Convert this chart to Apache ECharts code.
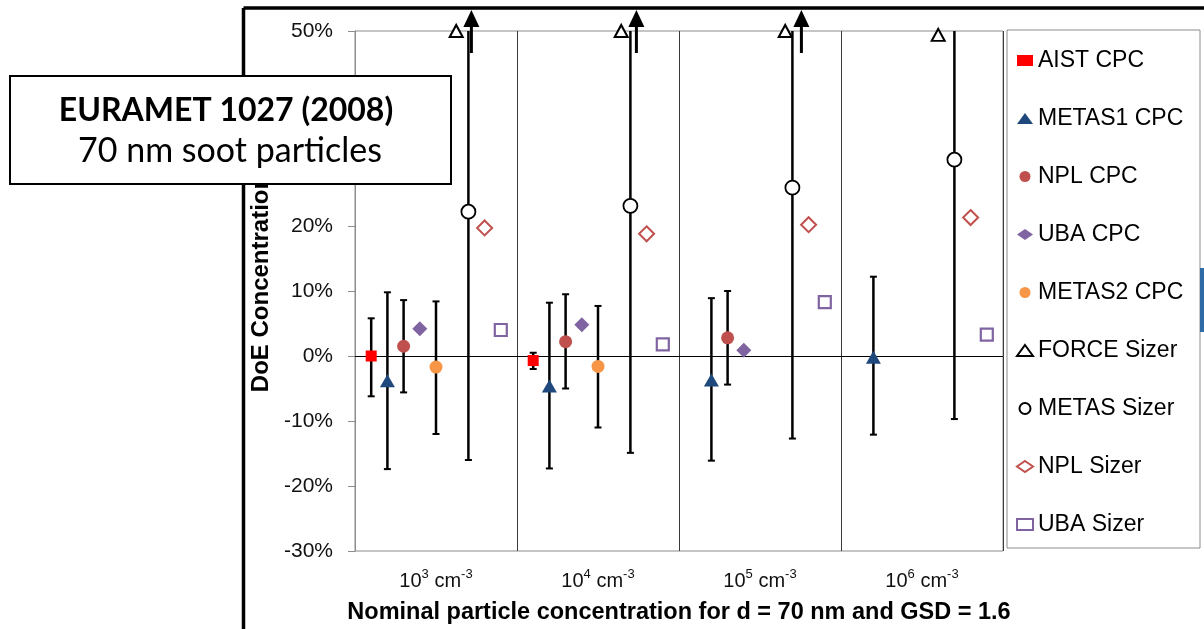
<!DOCTYPE html>
<html>
<head>
<meta charset="utf-8">
<script src="https://cdn.jsdelivr.net/npm/echarts@6/dist/echarts.min.js"></script>
<style>
  html, body { margin: 0; padding: 0; background: #fff; overflow: hidden; }
  #main { width: 1204px; height: 629px; }
</style>
</head>
<body>
<div id="main"></div>
<script>
// concentration exponents (10^n cm^-3)
var catExponent = ['3', '4', '5', '6'];
var yTicks = [-30, -20, -10, 0, 10, 20, 30, 40, 50];

// DoE concentration (%), null = not measured
var aistCpc     = [0.0, -0.7, null, null];
var aistCpcLo   = [-6.2, -2.0, null, null];
var aistCpcHi   = [5.8, 0.5, null, null];

var metas1Cpc   = [-3.8, -4.6, -3.7, -0.2];
var metas1CpcLo = [-17.4, -17.3, -16.1, -12.1];
var metas1CpcHi = [9.8, 8.2, 8.9, 12.2];

var nplCpc      = [1.5, 2.2, 2.8, null];
var nplCpcLo    = [-5.6, -5.0, -4.4, null];
var nplCpcHi    = [8.6, 9.5, 10.0, null];

var ubaCpc      = [4.2, 4.8, 0.9, null];

var metas2Cpc   = [-1.7, -1.6, null, null];
var metas2CpcLo = [-12.0, -11.0, null, null];
var metas2CpcHi = [8.4, 7.7, null, null];

var forceSizer  = [50, 50, 50, 49.4];
var forceOffScale = [true, true, true, false];

var metasSizer   = [22.2, 23.1, 25.9, 30.2];
var metasSizerLo = [-16.0, -14.9, -12.7, -9.7];
var metasSizerHi = [50, 50, 50, 50];   // runs off the top of the scale

var nplSizer    = [19.7, 18.8, 20.2, 21.3];
var ubaSizer    = [4.0, 1.8, 8.3, 3.3];

// layout
var GRID = { left: 355, right: 201, top: 31, bottom: 78 };
var bandW = (1204 - GRID.left - GRID.right) / catExponent.length;
var slotW = bandW / 10;
var forceNudge = [4, 7, 9, 0];
var arrowNudge = [3, 6, 9, 0];
var FONT = '"Liberation Sans", Arial, sans-serif';
var BOXFONT = 'Lato, "Open Sans", sans-serif';

function pts(arr) {
  var out = [];
  arr.forEach(function (v, i) { if (v !== null) out.push([i, v]); });
  return out;
}
function bars(lo, hi) {
  var out = [];
  lo.forEach(function (v, i) { if (v !== null) out.push([i, v, hi[i]]); });
  return out;
}

function marker(name, arr, slot, symbol, size, style) {
  style.opacity = 1;
  return {
    name: name, type: 'scatter', z: 5,
    symbol: symbol, symbolSize: size,
    symbolOffset: [(slot - 4) * slotW, 0],
    itemStyle: style,
    data: pts(arr)
  };
}

function errorBars(lo, hi, slot) {
  return {
    type: 'custom', z: 3, silent: true,
    data: bars(lo, hi),
    encode: { x: 0, y: [1, 2] },
    renderItem: function (params, api) {
      var ci = api.value(0);
      var a = api.coord([ci, api.value(1)]);
      var b = api.coord([ci, api.value(2)]);
      var x = a[0] + (slot - 4) * api.size([1, 0])[0] / 10;
      var kids = [
        { type: 'line', shape: { x1: x, y1: a[1], x2: x, y2: b[1] }, style: { stroke: '#000', lineWidth: 2.5 } },
        { type: 'line', shape: { x1: x - 3.5, y1: a[1], x2: x + 3.5, y2: a[1] }, style: { stroke: '#000', lineWidth: 2 } }
      ];
      if (api.value(2) < 50) {
        kids.push({ type: 'line', shape: { x1: x - 3.5, y1: b[1], x2: x + 3.5, y2: b[1] }, style: { stroke: '#000', lineWidth: 2 } });
      }
      return { type: 'group', children: kids };
    }
  };
}

var forceData = [];
forceSizer.forEach(function (v, i) {
  forceData.push({ value: [i, v], symbolOffset: [1 * slotW + forceNudge[i], 0] });
});
var arrowData = [];
forceOffScale.forEach(function (f, i) { if (f) arrowData.push([i, 50]); });

var myChart = echarts.init(document.getElementById('main'));
var option = {
  animation: false,
  backgroundColor: '#fff',
  textStyle: { fontFamily: FONT },
  grid: {
    left: GRID.left, right: GRID.right, top: GRID.top, bottom: GRID.bottom,
    outerBoundsMode: 'none', containLabel: false,
    show: true, borderColor: '#8c8c8c', borderWidth: 1
  },
  legend: {
    orient: 'vertical', left: 1011, top: 44,
    itemWidth: 16, itemHeight: 11, itemGap: 35,
    textStyle: { fontSize: 23, lineHeight: 22, color: '#000', fontFamily: FONT },
    data: ['AIST CPC', 'METAS1 CPC', 'NPL CPC', 'UBA CPC', 'METAS2 CPC',
           'FORCE Sizer', 'METAS Sizer', 'NPL Sizer', 'UBA Sizer']
  },
  xAxis: {
    type: 'category',
    data: catExponent,
    boundaryGap: true,
    name: 'Nominal particle concentration for d = 70 nm and GSD = 1.6',
    nameLocation: 'middle', nameGap: 50,
    nameTextStyle: { fontSize: 23.5, fontWeight: 'bold', color: '#000', fontFamily: FONT },
    axisLine: { lineStyle: { color: '#8c8c8c', width: 1 } },
    axisTick: { show: false },
    splitLine: { show: true, lineStyle: { color: '#3a3a3a', width: 1 } },
    axisLabel: {
      margin: 16, color: '#111',
      formatter: function (v) { return '{b|10}{s|' + v + '}{b| cm}{s|-3}'; },
      rich: {
        b: { fontSize: 20, lineHeight: 24, verticalAlign: 'bottom', fontFamily: FONT, color: '#111' },
        s: { fontSize: 13, lineHeight: 24, verticalAlign: 'top', fontFamily: FONT, color: '#111', padding: [1, 0, 0, 0] }
      }
    }
  },
  yAxis: {
    type: 'value', min: yTicks[0], max: yTicks[yTicks.length - 1], interval: 10,
    name: 'DoE Concentration',
    nameLocation: 'middle', nameGap: 82,
    nameTextStyle: { fontSize: 24, fontWeight: 'bold', color: '#000', fontFamily: FONT, padding: [0, 0, 0, 15] },
    axisLine: { show: true, lineStyle: { color: '#8c8c8c', width: 1 } },
    axisTick: { show: true, length: 7, lineStyle: { color: '#8c8c8c' } },
    splitLine: { show: false },
    axisLabel: { fontSize: 21, color: '#111', margin: 22, formatter: '{value}%' }
  },
  series: [
    errorBars(aistCpcLo, aistCpcHi, 0),
    errorBars(metas1CpcLo, metas1CpcHi, 1),
    errorBars(nplCpcLo, nplCpcHi, 2),
    errorBars(metas2CpcLo, metas2CpcHi, 4),
    errorBars(metasSizerLo, metasSizerHi, 6),
    Object.assign(marker('AIST CPC', aistCpc, 0, 'rect', 11, { color: '#ff0000' }), {
      markLine: {
        silent: true, symbol: 'none', label: { show: false },
        lineStyle: { color: '#000', width: 1, type: 'solid' },
        data: [{ yAxis: 0 }]
      }
    }),
    marker('METAS1 CPC', metas1Cpc, 1, 'triangle', [15, 13], { color: '#1f497d' }),
    marker('NPL CPC', nplCpc, 2, 'circle', 13, { color: '#c0504d' }),
    marker('UBA CPC', ubaCpc, 3, 'diamond', [15, 15], { color: '#8064a2' }),
    marker('METAS2 CPC', metas2Cpc, 4, 'circle', 13, { color: '#f79646' }),
    {
      name: 'FORCE Sizer', type: 'scatter', z: 5,
      symbol: 'triangle', symbolSize: [13, 12],
      itemStyle: { color: '#fff', borderColor: '#000', borderWidth: 2, opacity: 1 },
      data: forceData
    },
    marker('METAS Sizer', metasSizer, 6, 'circle', 14, { color: '#fff', borderColor: '#000', borderWidth: 1.8 }),
    marker('NPL Sizer', nplSizer, 7, 'diamond', [15, 15], { color: '#fff', borderColor: '#c0504d', borderWidth: 2 }),
    marker('UBA Sizer', ubaSizer, 8, 'rect', 12, { color: '#fff', borderColor: '#8064a2', borderWidth: 2.2 }),
    {
      type: 'custom', z: 6, silent: true, clip: false,
      data: arrowData,
      renderItem: function (params, api) {
        var ci = api.value(0);
        var p = api.coord([ci, api.value(1)]);
        var x = p[0] + 2 * api.size([1, 0])[0] / 10 + arrowNudge[ci];
        var y = p[1];
        return {
          type: 'group', children: [
            { type: 'line', shape: { x1: x, y1: y - 6, x2: x, y2: y + 22 }, style: { stroke: '#000', lineWidth: 3 } },
            { type: 'polygon', shape: { points: [[x, y - 21], [x - 8, y - 4], [x + 8, y - 4]] }, style: { fill: '#000' } }
          ]
        };
      }
    }
  ],
  graphic: [
    { type: 'rect', z: -1, shape: { x: 1007, y: 30, width: 193, height: 518 }, style: { fill: '#fff', stroke: '#8c8c8c', lineWidth: 1 } },
    { type: 'line', z: 50, shape: { x1: 243.5, y1: 8, x2: 1204, y2: 8 }, style: { stroke: '#000', lineWidth: 3.5 } },
    { type: 'line', z: 50, shape: { x1: 243.5, y1: 8, x2: 243.5, y2: 629 }, style: { stroke: '#000', lineWidth: 3.5 } },
    { type: 'rect', z: 50, shape: { x: 1200, y: 268, width: 4, height: 64 }, style: { fill: '#2e6aa6' } },
    { type: 'rect', z: 100, shape: { x: 10, y: 76, width: 441, height: 108 }, style: { fill: '#fff', stroke: '#000', lineWidth: 2 } },
    { type: 'text', z: 101, x: 226, y: 111, style: { text: 'EURAMET 1027 (2008)', fontFamily: BOXFONT, fontWeight: 'bold', fontSize: 32, fill: '#000', align: 'center', verticalAlign: 'middle' } },
    { type: 'text', z: 101, x: 230, y: 151, style: { text: '70 nm soot particles', fontFamily: BOXFONT, fontSize: 34, fill: '#000', align: 'center', verticalAlign: 'middle' } }
  ]
};
myChart.setOption(option);
</script>
</body>
</html>
